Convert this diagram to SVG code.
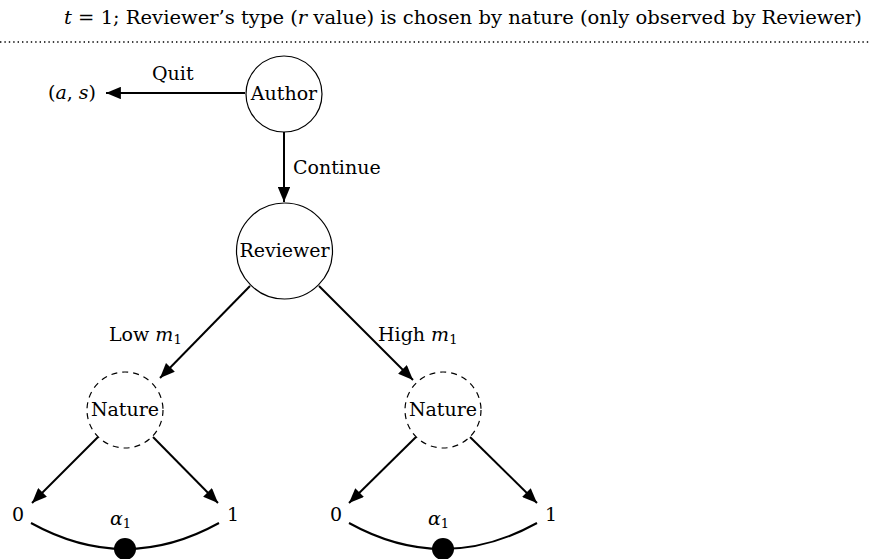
<svg xmlns="http://www.w3.org/2000/svg" width="870" height="559" viewBox="0 0 870 559">
  <style>
    text { font-family: "DejaVu Serif", "Liberation Serif", serif; font-size: 19px; fill: #000; }
    .it { font-style: italic; }
    .sub { font-size: 13px; font-style: normal; }
    .node { fill: #fff; stroke: #000; stroke-width: 1.2; }
    .chance { fill: #fff; stroke: #000; stroke-width: 1.2; stroke-dasharray: 6 5; }
    .edge { fill: none; stroke: #000; stroke-width: 2; marker-end: url(#tip); }
    .info { fill: none; stroke: #000; stroke-width: 2; }
  </style>
  <defs>
    <marker id="tip" viewBox="0 0 12 10" refX="12" refY="5" markerWidth="7.5" markerHeight="6.2" orient="auto" markerUnits="strokeWidth">
      <path d="M0,0 L12,5 L0,10 Z" fill="#000"/>
    </marker>
  </defs>

  <!-- stage header -->
  <g id="header">
    <text x="64" y="24" font-size="18" textLength="798" lengthAdjust="spacingAndGlyphs"><tspan class="it">t</tspan> = 1; Reviewer’s type (<tspan class="it">r</tspan> value) is chosen by nature (only observed by Reviewer)</text>
    <line x1="0" y1="42" x2="870" y2="42" stroke="#000" stroke-width="1.4" stroke-dasharray="1.4 3"/>
  </g>

  <!-- connectors -->
  <g id="connectors">
    <line class="edge" x1="245" y1="93" x2="106" y2="93"/>
    <line class="edge" x1="284" y1="132" x2="284" y2="202"/>
    <line class="edge" x1="250" y1="286" x2="160" y2="378"/>
    <line class="edge" x1="319" y1="286" x2="413" y2="380"/>
    <line class="edge" x1="98" y1="437" x2="32" y2="503"/>
    <line class="edge" x1="153" y1="437" x2="218" y2="503"/>
    <line class="edge" x1="416" y1="437" x2="349" y2="503"/>
    <line class="edge" x1="470" y1="437" x2="537" y2="503"/>
    <path class="info" d="M31,523 Q125,575 219,523"/>
    <path class="info" d="M349,523 Q443,575 537,523"/>
    <text x="152" y="80">Quit</text>
    <text x="293" y="174">Continue</text>
    <text x="109" y="341">Low <tspan class="it">m</tspan><tspan class="sub" dy="3">1</tspan></text>
    <text x="378" y="341">High <tspan class="it">m</tspan><tspan class="sub" dy="3">1</tspan></text>
  </g>

  <g id="payoff-quit">
    <text x="48" y="99">(<tspan class="it">a</tspan>, <tspan class="it">s</tspan>)</text>
  </g>

  <g id="author">
    <circle class="node" cx="284" cy="94" r="38"/>
    <text x="284" y="100" text-anchor="middle">Author</text>
  </g>

  <g id="reviewer">
    <circle class="node" cx="284.5" cy="251" r="48"/>
    <text x="284.5" y="257" text-anchor="middle">Reviewer</text>
  </g>

  <g id="nature-low">
    <circle class="chance" cx="125" cy="410" r="38"/>
    <text x="125" y="416" text-anchor="middle">Nature</text>
  </g>

  <g id="nature-high">
    <circle class="chance" cx="443" cy="410" r="38"/>
    <text x="443" y="416" text-anchor="middle">Nature</text>
  </g>

  <g id="outcome-low-0"><text x="12" y="521">0</text></g>
  <g id="outcome-low-1"><text x="227" y="521">1</text></g>
  <g id="outcome-high-0"><text x="330" y="521">0</text></g>
  <g id="outcome-high-1"><text x="545" y="521">1</text></g>

  <g id="belief-low">
    <text x="110" y="525" class="it">α<tspan class="sub" dy="3">1</tspan></text>
    <circle cx="125" cy="549" r="11" fill="#000"/>
  </g>

  <g id="belief-high">
    <text x="428" y="525" class="it">α<tspan class="sub" dy="3">1</tspan></text>
    <circle cx="443" cy="549" r="11" fill="#000"/>
  </g>
</svg>
